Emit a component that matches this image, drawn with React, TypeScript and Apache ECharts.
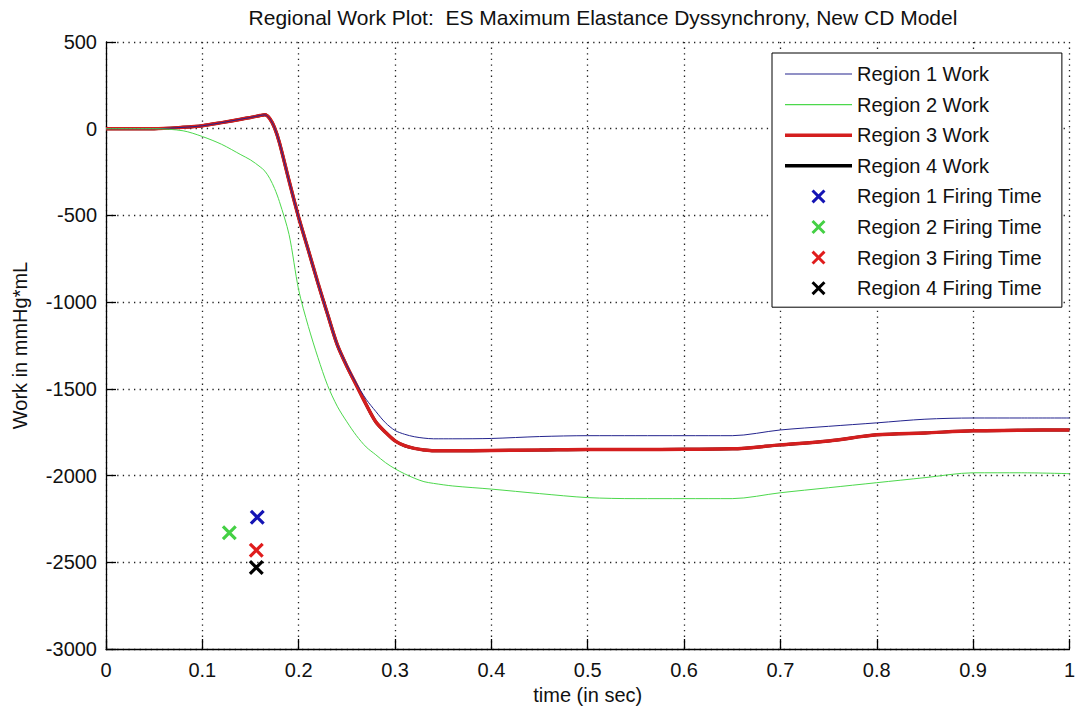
import React, { useEffect, useRef } from "react";
import * as echarts from "echarts";

const TITLE = "Regional Work Plot:  ES Maximum Elastance Dyssynchrony, New CD Model";
const X_NAME = "time (in sec)";
const Y_NAME = "Work in mmHg*mL";

const TIME = [0, 0.05, 0.08, 0.1, 0.12, 0.14, 0.15, 0.16, 0.165, 0.17, 0.175, 0.18, 0.19, 0.2, 0.21, 0.22, 0.23, 0.24, 0.25, 0.26, 0.27, 0.28, 0.29, 0.3, 0.31, 0.32, 0.33, 0.34, 0.36, 0.4, 0.45, 0.5, 0.55, 0.6, 0.65, 0.7, 0.75, 0.8, 0.85, 0.9, 0.95, 1.0];

const REGION1_WORK = [0, 0, 8, 17, 35, 55, 65, 76, 80, 58, 5, -80, -300, -512, -700, -890, -1070, -1245, -1365, -1470, -1560, -1630, -1695, -1740, -1762, -1776, -1784, -1788, -1788, -1786, -1775, -1770, -1770, -1770, -1770, -1737, -1716, -1696, -1675, -1668, -1668, -1668];
const REGION2_WORK = [0, 0, -12, -45, -90, -150, -180, -220, -245, -287, -345, -420, -610, -930, -1140, -1320, -1480, -1600, -1690, -1770, -1835, -1880, -1925, -1961, -1990, -2015, -2035, -2045, -2060, -2078, -2104, -2127, -2133, -2133, -2133, -2099, -2070, -2041, -2012, -1984, -1984, -1989];
const REGION3_WORK = [0, 0, 8, 17, 35, 55, 65, 76, 80, 58, 5, -80, -300, -512, -700, -890, -1070, -1245, -1370, -1480, -1590, -1690, -1750, -1800, -1828, -1843, -1852, -1857, -1857, -1855, -1853, -1850, -1850, -1848, -1846, -1823, -1800, -1765, -1754, -1742, -1738, -1737];
const REGION4_WORK = [0, 0, 8, 17, 35, 55, 65, 76, 80, 58, 5, -80, -300, -512, -700, -890, -1070, -1245, -1370, -1480, -1590, -1690, -1750, -1800, -1828, -1843, -1852, -1857, -1857, -1855, -1853, -1850, -1850, -1848, -1846, -1823, -1800, -1765, -1754, -1742, -1738, -1737];

const FIRING_TIMES = [0.157, 0.128, 0.156, 0.156];
const FIRING_VALUES = [-2240, -2330, -2430, -2530];

const WORK_NAMES = ["Region 1 Work", "Region 2 Work", "Region 3 Work", "Region 4 Work"];
const FIRING_NAMES = ["Region 1 Firing Time", "Region 2 Firing Time", "Region 3 Firing Time", "Region 4 Firing Time"];

const X_PATH = "path://M0,1.5L1.5,0L10,8.5L8.5,10Z M8.5,0L10,1.5L1.5,10L0,8.5Z";
const THIN_LINE = "path://M0,0L67,0L67,1.2L0,1.2Z";
const THICK_LINE = "path://M0,0L67,0L67,3.5L0,3.5Z";
const FONT = "Liberation Sans, Arial, sans-serif";

function pairs(xs: number[], ys: number[]) {
  return xs.map((x, i) => [x, ys[i]]);
}

export default function App() {
  const ref = useRef<HTMLDivElement>(null);
  useEffect(() => {
    if (!ref.current) return;
    const chart = echarts.init(ref.current, null, { renderer: "svg" });
    const lineColors = ["#24248e", "#4cd84c", "#d41e1e", "#000000"];
    const lineWidths = [1, 1, 3.5, 3];
    const legendIcons = [THIN_LINE, THIN_LINE, THICK_LINE, THICK_LINE];
    const markColors = ["#1414b4", "#44d044", "#e01c1c", "#000000"];
    const works = [REGION1_WORK, REGION2_WORK, REGION3_WORK, REGION4_WORK];
    const drawOrder = [3, 2, 0, 1];
    const lineSeries = drawOrder.map((i) => ({
      type: "line",
      name: WORK_NAMES[i],
      data: pairs(TIME, works[i]),
      symbol: "none",
      showSymbol: false,
      smooth: 0.3,
      lineStyle: { color: lineColors[i], width: lineWidths[i] },
      itemStyle: { color: lineColors[i] },
      z: 2,
    }));
    const scatterSeries = FIRING_NAMES.map((name, i) => ({
      type: "scatter",
      name,
      data: [[FIRING_TIMES[i], FIRING_VALUES[i]]],
      symbol: X_PATH,
      symbolSize: 15,
      itemStyle: { color: markColors[i], opacity: 1 },
      z: 3,
    }));
    const legendData = [
      ...WORK_NAMES.map((n, i) => ({ name: n, icon: legendIcons[i], itemStyle: { color: lineColors[i], borderWidth: 0 } })),
      ...FIRING_NAMES.map((n) => ({ name: n, icon: X_PATH })),
    ];
    chart.setOption({
      animation: false,
      backgroundColor: "#ffffff",
      textStyle: { fontFamily: FONT },
      title: {
        text: TITLE,
        left: 598,
        textAlign: "center",
        top: 2,
        textStyle: { fontFamily: FONT, fontSize: 21, fontWeight: "normal", color: "#111" },
      },
      legend: {
        orient: "vertical",
        left: 772,
        top: 53,
        padding: [11, 20, 9, 13],
        itemWidth: 67,
        itemHeight: 14,
        itemGap: 10.6,
        backgroundColor: "#ffffff",
        borderColor: "#000",
        borderWidth: 1,
        borderRadius: 0,
        textStyle: { fontFamily: FONT, fontSize: 20, color: "#111" },
        data: legendData,
      },
      grid: { left: 106, right: 4, top: 42, bottom: 64, containLabel: false },
      xAxis: {
        type: "value",
        min: 0,
        max: 1,
        interval: 0.1,
        name: X_NAME,
        nameLocation: "middle",
        nameGap: 33,
        nameTextStyle: { fontFamily: FONT, fontSize: 20, color: "#111" },
        axisLine: { onZero: false, lineStyle: { color: "#000", width: 1.3 } },
        axisTick: { inside: true, length: 10, lineStyle: { color: "#000", width: 1.3 } },
        axisLabel: { fontFamily: FONT, fontSize: 20, color: "#111", margin: 11 },
        splitLine: { show: true, lineStyle: { color: "#222", width: 1.3, type: [1.3, 4.3] } },
      },
      yAxis: {
        type: "value",
        min: -3000,
        max: 500,
        interval: 500,
        name: Y_NAME,
        nameLocation: "middle",
        nameGap: 76,
        nameTextStyle: { fontFamily: FONT, fontSize: 20, color: "#111" },
        axisLine: { onZero: false, lineStyle: { color: "#000", width: 1.3 } },
        axisTick: { inside: true, length: 10, lineStyle: { color: "#000", width: 1.3 } },
        axisLabel: { fontFamily: FONT, fontSize: 20, color: "#111", margin: 9, formatter: (v: number) => String(v) },
        splitLine: { show: true, lineStyle: { color: "#222", width: 1.3, type: [1.3, 4.3] } },
      },
      series: [...lineSeries, ...scatterSeries],
    });
    return () => chart.dispose();
  }, []);
  return <div ref={ref} style={{ position: "absolute", left: 0, top: 0, width: 1078, height: 713 }} />;
}
